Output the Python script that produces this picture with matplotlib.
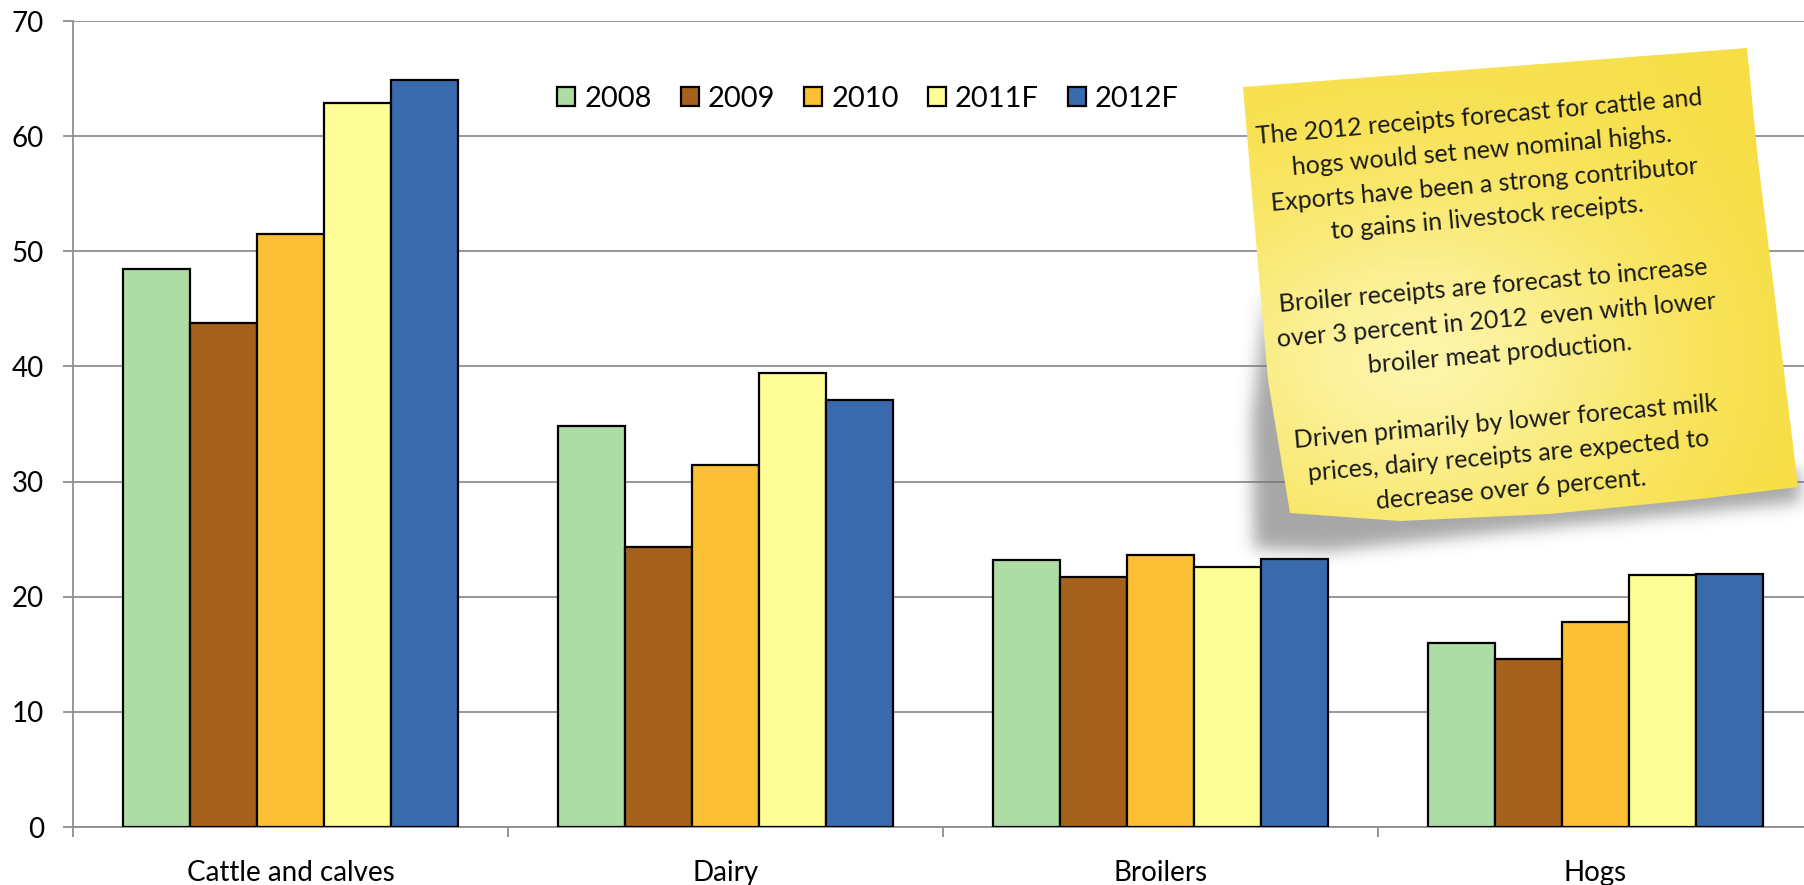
import numpy as np
import matplotlib
matplotlib.use("Agg")
import matplotlib.pyplot as plt
from matplotlib.path import Path
from matplotlib.patches import Polygon

categories = ["Cattle and calves", "Dairy", "Broilers", "Hogs"]
years = ["2008", "2009", "2010", "2011F", "2012F"]
v2008 = [48.5, 34.8, 23.2, 16.0]
v2009 = [43.8, 24.3, 21.7, 14.6]
v2010 = [51.5, 31.4, 23.6, 17.8]
v2011 = [62.9, 39.4, 22.6, 21.9]
v2012 = [64.9, 37.1, 23.3, 22.0]
series = [v2008, v2009, v2010, v2011, v2012]
colors = ["#ADDDA4", "#A6621C", "#FBBF33", "#FEFE96", "#396AAE"]

note_text = ("The 2012 receipts forecast for cattle and\n"
             "hogs would set new nominal highs.\n"
             "Exports have been a strong contributor\n"
             "to gains in livestock receipts.\n"
             "\n"
             "Broiler receipts are forecast to increase\n"
             "over 3 percent in 2012  even with lower\n"
             "broiler meat production.\n"
             "\n"
             "Driven primarily by lower forecast milk\n"
             "prices, dairy receipts are expected to\n"
             "decrease over 6 percent.")

plt.rcParams['font.family'] = ['Lato', 'DejaVu Sans']

W, H = 1804, 885
fig = plt.figure(figsize=(W / 100, H / 100), dpi=100)
ax = fig.add_axes([73 / W, (H - 827) / H, 1740 / W, 806 / H])

grey = "#8f8f8f"
bw = 0.154
x = np.arange(len(categories))
for j, (vals, c, lab) in enumerate(zip(series, colors, years)):
    ax.bar(x + (j - 2) * bw, vals, width=bw, color=c, edgecolor="black",
           linewidth=1.6, label=lab, zorder=3)

ax.set_xlim(-0.5, 3.5)
ax.set_ylim(0, 70)
ax.set_yticks(range(0, 71, 10))
ax.yaxis.grid(True, color=grey, linewidth=1.3, zorder=0)
ax.set_axisbelow(True)
for s in ["top", "right"]:
    ax.spines[s].set_visible(False)
for s in ["left", "bottom"]:
    ax.spines[s].set_color(grey)
    ax.spines[s].set_linewidth(1.3)

ax.set_xticks(x)
ax.set_xticklabels(categories)
ax.set_xticks(np.arange(-0.5, 4, 1), minor=True)
ax.tick_params(axis="x", which="major", length=0, pad=23.5, labelsize=20)
ax.tick_params(axis="x", which="minor", length=7, width=1.3, color=grey)
ax.tick_params(axis="y", length=7, width=1.3, color=grey, pad=14, labelsize=20)

ax.legend(loc="center", bbox_to_anchor=(868 / W, 1 - 99 / H),
          bbox_transform=fig.transFigure, ncol=5, frameon=False,
          fontsize=21, handlelength=0.62, handleheight=0.62,
          handletextpad=0.3, columnspacing=1.0, borderpad=0)

# sticky note drawn in pixel coordinates on top of everything
ov = fig.add_axes([0, 0, 1, 1], zorder=5)
ov.set_xlim(0, W)
ov.set_ylim(H, 0)
ov.axis("off")
ov.patch.set_alpha(0)

note_pts = [(1243, 87), (1747, 48), (1758, 160), (1790, 420), (1798, 487),
            (1700, 499), (1550, 514), (1400, 521), (1290, 513),
            (1268, 380), (1255, 230)]
shadow_pts = [(1266, 290), (1252, 420), (1254, 549), (1330, 551),
              (1500, 532), (1800, 502), (1800, 470), (1300, 470)]

x0, x1, y0, y1 = 1180, 1804, 0, 620
gx, gy = np.meshgrid(np.arange(x0, x1) + 0.5, np.arange(y0, y1) + 0.5)
pts = np.column_stack([gx.ravel(), gy.ravel()])

mask = Path(shadow_pts).contains_points(pts).reshape(gx.shape).astype(float)
sig = 8
kx = np.arange(-3 * sig, 3 * sig + 1)
k = np.exp(-kx ** 2 / (2 * sig ** 2))
k /= k.sum()
mask = np.apply_along_axis(lambda r: np.convolve(r, k, mode="same"), 1, mask)
mask = np.apply_along_axis(lambda r: np.convolve(r, k, mode="same"), 0, mask)
shadow = np.zeros(gx.shape + (4,))
shadow[..., :3] = 0.45
shadow[..., 3] = mask * 0.62
ov.imshow(shadow, extent=(x0, x1, y1, y0), origin="upper", interpolation="bilinear")

# yellow gradient, lighter towards the lower left middle
base = np.array([0.97, 0.88, 0.30])
light = np.array([0.99, 0.96, 0.66])
d = np.exp(-(((gx - 1420) / 230) ** 2 + ((gy - 360) / 170) ** 2))
grad = base[None, None, :] * (1 - d[..., None]) + light[None, None, :] * d[..., None]
grad = grad - 0.04 * np.clip((gx - 1600) / 200, 0, 1)[..., None] * np.array([0, 0.3, 1])
note = Polygon(note_pts, closed=True, facecolor="none", edgecolor="none")
ov.add_patch(note)
im = ov.imshow(np.clip(grad, 0, 1), extent=(x0, x1, y1, y0), origin="upper",
               interpolation="bilinear")
im.set_clip_path(note)

ov.text(1495, 303, note_text, rotation=5, rotation_mode="anchor",
        ha="center", va="center", multialignment="center",
        fontsize=18, linespacing=1.58, color="#1a1a1a")

fig.savefig("out.png", dpi=100)
